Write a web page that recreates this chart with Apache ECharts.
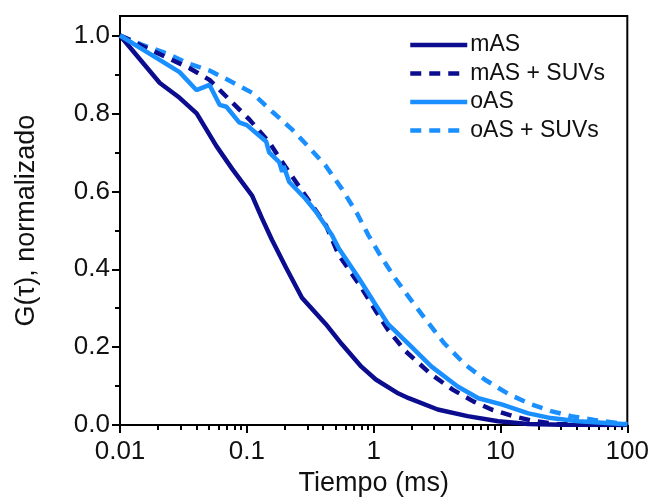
<!DOCTYPE html>
<html>
<head>
<meta charset="utf-8">
<script src="https://cdn.jsdelivr.net/npm/echarts@6/dist/echarts.min.js"></script>
<style>html,body{margin:0;padding:0;background:#fff;}#c{width:652px;height:502px;}</style>
</head>
<body>
<div id="c"></div>
<script>
var seriesNames = ['mAS', 'mAS + SUVs', 'oAS', 'oAS + SUVs'];
var xTickLabels = [0.01, 0.1, 1, 10, 100];
var yTickLabels = [0, 0.2, 0.4, 0.6, 0.8, 1.0];

var tMAS = [0.01,0.0206,0.0295,0.0402,0.0576,0.0769,0.110,0.132,0.158,0.204,0.272,0.42,0.56,0.80,1.04,1.57,1.89,3.2,5.5,9.6,16.6,30,60,100];
var gMAS = [1.0,0.878,0.84,0.80,0.716,0.657,0.589,0.530,0.475,0.404,0.327,0.259,0.208,0.150,0.117,0.081,0.069,0.04,0.023,0.01,0.003,0.001,0,0];

var tMASSUV = [0.01,0.0354,0.0508,0.073,0.105,0.15,0.19,0.244,0.309,0.42,0.53,0.80,1.03,1.3,1.78,2.8,4.2,6.1,8.5,12.5,18.6,28,50,100];
var gMASSUV = [1.0,0.916,0.886,0.835,0.784,0.726,0.675,0.624,0.576,0.513,0.437,0.353,0.295,0.244,0.19,0.132,0.091,0.061,0.04,0.023,0.01,0.003,0.001,0];

var tOAS = [0.01,0.0295,0.04,0.0508,0.061,0.069,0.087,0.1,0.142,0.15,0.18,0.19,0.195,0.216,0.29,0.35,0.47,0.53,0.76,1.03,1.3,1.89,2.86,4.6,6.7,10.2,16.6,25,41,74,100];
var gOAS = [1.0,0.906,0.86,0.873,0.822,0.817,0.777,0.77,0.728,0.70,0.675,0.65,0.665,0.624,0.581,0.548,0.487,0.454,0.378,0.31,0.259,0.208,0.15,0.099,0.069,0.053,0.03,0.018,0.01,0.005,0.002];

var tOASSUV = [0.01,0.0152,0.0234,0.0335,0.0508,0.077,0.11,0.158,0.227,0.309,0.42,0.56,0.74,0.91,1.16,1.49,1.98,2.6,3.6,5.2,7.5,11.4,16.6,25,36,55,85,100];
var gOASSUV = [1.0,0.975,0.954,0.93,0.91,0.88,0.853,0.805,0.759,0.713,0.665,0.607,0.543,0.487,0.429,0.375,0.32,0.269,0.21,0.157,0.117,0.081,0.056,0.036,0.023,0.013,0.005,0.003];

function pairs(t, g) { return t.map(function (v, i) { return [v, g[i]]; }); }

var xMinor = [];
[0.01, 0.1, 1, 10].forEach(function (d) { for (var k = 2; k <= 9; k++) xMinor.push(+(d * k).toPrecision(3)); });
var yMinor = [0.1, 0.3, 0.5, 0.7, 0.9];

var DARK = '#0c0c8e';
var LIGHT = '#1a8fff';
var FONT = 'Liberation Sans, Arial, sans-serif';
var LW = 4.5;
var DASH = [11, 8];

var chart = echarts.init(document.getElementById('c'), null, { renderer: 'canvas' });
chart.setOption({
  animation: false,
  backgroundColor: '#fff',
  grid: { left: 120, right: 22, top: 16, bottom: 73, show: true, borderColor: '#000', borderWidth: 2, backgroundColor: 'transparent' },
  legend: {
    orient: 'vertical', left: 403, top: 28, itemWidth: 57, itemHeight: 14, itemGap: 4.5,
    itemStyle: { opacity: 0 },
    lineStyle: { width: LW },
    textStyle: { fontFamily: FONT, fontSize: 23, color: '#111', lineHeight: 24, padding: [0,0,0,-2] },
    data: seriesNames
  },
  xAxis: [{
    type: 'log', logBase: 10, min: 0.01, max: 100,
    name: 'Tiempo (ms)', nameLocation: 'middle', nameGap: 44,
    nameTextStyle: { fontFamily: FONT, fontSize: 27, color: '#111' },
    axisLine: { lineStyle: { color: '#000', width: 2 } },
    axisTick: { length: 8, lineStyle: { color: '#000', width: 2 }, customValues: xTickLabels },
    axisLabel: { fontFamily: FONT, fontSize: 26, color: '#111', margin: 14, customValues: xTickLabels,
      formatter: function (v) { return String(+v.toPrecision(3)); } },
    splitLine: { show: false }
  }, {
    type: 'log', logBase: 10, min: 0.01, max: 100, position: 'bottom',
    axisLine: { show: false },
    axisTick: { length: 5, lineStyle: { color: '#000', width: 2 }, customValues: xMinor },
    axisLabel: { show: false }, splitLine: { show: false }
  }],
  yAxis: [{
    type: 'value', min: 0, max: 1.05, interval: 0.2,
    name: 'G(τ), normalizado', nameLocation: 'middle', nameGap: 80,
    nameTextStyle: { fontFamily: FONT, fontSize: 27, color: '#111' },
    axisLine: { show: true, lineStyle: { color: '#000', width: 2 } },
    axisTick: { show: true, length: 8, lineStyle: { color: '#000', width: 2 }, customValues: yTickLabels },
    axisLabel: { fontFamily: FONT, fontSize: 26, color: '#111', margin: 10, customValues: yTickLabels,
      padding: [0, 0, 11, 0],
      formatter: function (v) { return v.toFixed(1); } },
    splitLine: { show: false }
  }, {
    type: 'value', min: 0, max: 1.05, position: 'left',
    axisLine: { show: false },
    axisTick: { show: true, length: 5, lineStyle: { color: '#000', width: 2 }, customValues: yMinor },
    axisLabel: { show: false }, splitLine: { show: false }
  }],
  series: [
    { name: seriesNames[0], type: 'line', data: pairs(tMAS, gMAS), showSymbol: false, symbol: 'none', z: 5,
      lineStyle: { color: DARK, width: LW, type: 'solid' }, itemStyle: { color: DARK } },
    { name: seriesNames[1], type: 'line', data: pairs(tMASSUV, gMASSUV), showSymbol: false, symbol: 'none', z: 4,
      lineStyle: { color: DARK, width: LW, type: DASH }, itemStyle: { color: DARK } },
    { name: seriesNames[2], type: 'line', data: pairs(tOAS, gOAS), showSymbol: false, symbol: 'none', z: 6,
      lineStyle: { color: LIGHT, width: LW, type: 'solid' }, itemStyle: { color: LIGHT } },
    { name: seriesNames[3], type: 'line', data: pairs(tOASSUV, gOASSUV), showSymbol: false, symbol: 'none', z: 3,
      lineStyle: { color: LIGHT, width: LW, type: DASH }, itemStyle: { color: LIGHT } }
  ]
});
</script>
</body>
</html>
